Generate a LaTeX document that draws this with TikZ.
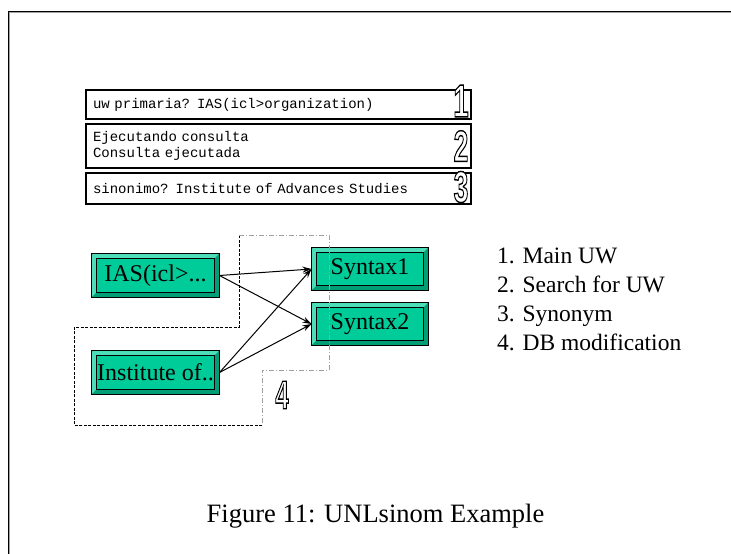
\documentclass[tikz,border=0pt]{standalone}
\usepackage{fontspec}
\setmainfont{Liberation Serif}
\setmonofont{Liberation Mono}
\newfontfamily\digitfont{Liberation Sans}
\usetikzlibrary{arrows.meta}
\definecolor{bevelmid}{HTML}{00CC99}
\definecolor{bevellight}{HTML}{4DDDB8}
\definecolor{beveldark}{HTML}{009E76}
\definecolor{framegray}{HTML}{A0A0A0}
% hollow (outlined) condensed digit: text render mode 2 fills white and strokes black
\newcommand{\hollowdigit}[2]{\scalebox{0.6}[1]{\fontsize{#2}{#2}\selectfont\digitfont\bfseries
  \special{pdf:literal direct 2 Tr 1.4 w 1 g 0 G}#1\special{pdf:literal direct 0 Tr 0 g}}}
\tikzset{
  msgbox/.style={draw=black, line width=1.4pt, fill=white, minimum width=385,
    text width=371, align=left, inner xsep=7pt, inner ysep=0pt,
    font=\fontsize{14}{16}\selectfont\ttfamily},
  synbox/.style={draw=black, line width=1pt, fill=bevelmid, inner sep=0pt,
    font=\fontsize{24}{24}\selectfont},
  legend/.style={anchor=base west, inner sep=0pt, font=\fontsize{23.5}{28}\selectfont},
  link/.style={line width=1pt, -{Stealth[length=9pt,width=6pt]}},
  darkdash/.style={line width=1pt, dash pattern=on 3pt off 1.5pt},
  lightdash/.style={line width=0.8pt, framegray, dash pattern=on 5pt off 2pt on 1pt off 2pt}
}
\begin{document}
\begin{tikzpicture}[x=1pt,y=-1pt]
\useasboundingbox (0,0) rectangle (731,554);
\fill[white] (0,0) rectangle (731,554);

% page frame
\draw[framegray, line width=1pt] (9.5,560) -- (9.5,12.5) -- (740,12.5);
\draw[black, line width=1pt] (8,560) -- (8,11) -- (740,11);

% message boxes
\node[msgbox, minimum height=29] (b1) at (278.5,104.5) {uw primaria? IAS(icl>organization)};
\node[msgbox, minimum height=44] (b2) at (278.5,146) {Ejecutando consulta\\Consulta ejecutada};
\node[msgbox, minimum height=31] (b3) at (278.5,188.5) {sinonimo? Institute of Advances Studies};
\node[inner sep=0pt] (d1) at (461,101) {\hollowdigit{1}{46}};
\node[inner sep=0pt] (d2) at (461,146) {\hollowdigit{2}{44}};
\node[inner sep=0pt] (d3) at (461,187) {\hollowdigit{3}{44}};

% bevelled boxes
\node[synbox, minimum width=127, minimum height=43] (ias) at (155.5,275.5) {IAS(icl>...};
\node[synbox, minimum width=127, minimum height=43] (inst) at (155.5,372.5) {Institute of..};
\node[synbox, minimum width=116, minimum height=42] (syn1) at (370,269) {Syntax1};
\node[synbox, minimum width=116, minimum height=42] (syn2) at (370,324) {Syntax2};
\foreach \n in {ias,inst,syn1,syn2}{
  \fill[bevellight] (\n.north west) -- (\n.north east) -- ([xshift=-5pt,yshift=-5pt]\n.north east) -- ([xshift=5pt,yshift=-5pt]\n.north west) -- cycle;
  \fill[bevellight] (\n.north west) -- ([xshift=5pt,yshift=-5pt]\n.north west) -- ([xshift=5pt,yshift=5pt]\n.south west) -- (\n.south west) -- cycle;
  \fill[beveldark] (\n.south west) -- ([xshift=5pt,yshift=5pt]\n.south west) -- ([xshift=-5pt,yshift=5pt]\n.south east) -- (\n.south east) -- cycle;
  \fill[beveldark] (\n.south east) -- ([xshift=-5pt,yshift=5pt]\n.south east) -- ([xshift=-5pt,yshift=-5pt]\n.north east) -- (\n.north east) -- cycle;
  \draw[line width=0.8pt] ([xshift=5pt,yshift=-5pt]\n.north west) rectangle ([xshift=-5pt,yshift=5pt]\n.south east);
  \draw[line width=1.2pt] (\n.north west) rectangle (\n.south east);
}

% links
\draw[link] (ias.east) -- (syn1.west);
\draw[link] (ias.east) -- (syn2.west);
\draw[link] (inst.east) -- (syn1.west);
\draw[link] (inst.east) -- (syn2.west);

% region of the DB modification
\draw[darkdash] (262,425) -- (74,425) -- (74,327) -- (239,327) -- (239,235);
\draw[lightdash] (239,235) -- (329,235) -- (329,370) -- (262,370) -- (262,425);
\node[inner sep=0pt] (d4) at (282,395) {\hollowdigit{4}{40}};

% legend
\node[legend] (l1) at (497,263) {1. Main UW};
\node[legend] (l2) at (497,292) {2. Search for UW};
\node[legend] (l3) at (497,321) {3. Synonym};
\node[legend] (l4) at (497,350) {4. DB modification};

% caption
\node[anchor=base, inner sep=0pt, font=\fontsize{26.5}{30}\selectfont] (cap) at (375.5,522) {Figure 11: UNLsinom Example};
\end{tikzpicture}
\end{document}
